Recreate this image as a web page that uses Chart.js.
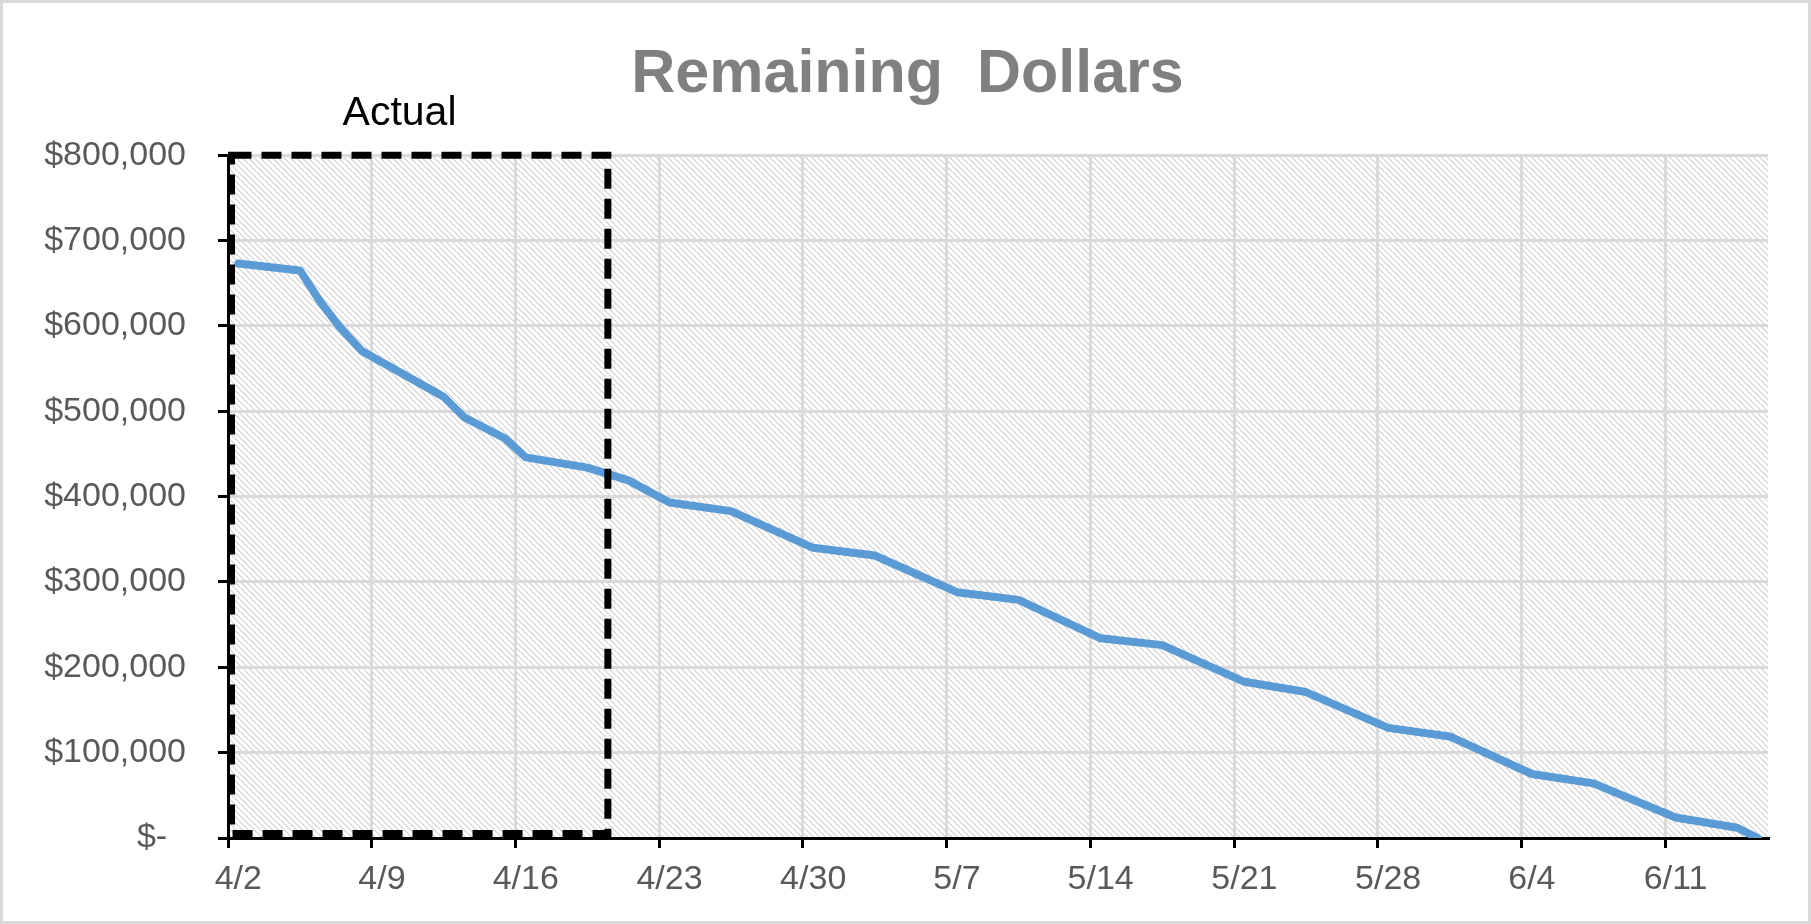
<!DOCTYPE html>
<html>
<head>
<meta charset="utf-8">
<title>Remaining Dollars</title>
<script src="https://cdn.jsdelivr.net/npm/chart.js@4.4.0/dist/chart.umd.min.js"></script>
<style>
  html, body { margin: 0; padding: 0; background: #fff; }
  #wrap { width: 1811px; height: 924px; position: relative; }
</style>
</head>
<body>
<div id="wrap"><canvas id="chart"></canvas></div>
<script>
"use strict";

// one category per day
const dates = [
  '4/2', '4/3', '4/4', '4/5', '4/6', '4/7', '4/8',
  '4/9', '4/10', '4/11', '4/12', '4/13', '4/14', '4/15',
  '4/16', '4/17', '4/18', '4/19', '4/20', '4/21', '4/22',
  '4/23', '4/24', '4/25', '4/26', '4/27', '4/28', '4/29',
  '4/30', '5/1', '5/2', '5/3', '5/4', '5/5', '5/6',
  '5/7', '5/8', '5/9', '5/10', '5/11', '5/12', '5/13',
  '5/14', '5/15', '5/16', '5/17', '5/18', '5/19', '5/20',
  '5/21', '5/22', '5/23', '5/24', '5/25', '5/26', '5/27',
  '5/28', '5/29', '5/30', '5/31', '6/1', '6/2', '6/3',
  '6/4', '6/5', '6/6', '6/7', '6/8', '6/9', '6/10',
  '6/11', '6/12', '6/13', '6/14', '6/15'
];

// remaining dollars, read where the line bends (null = straight run)
const remaining = [
  673000, null, null, 665000, 628000, 597000, 571000,
  null, null, null, 517000, 493000, null, 468000,
  446000, null, null, 434000, null, 419000, null,
  393000, null, null, 383000, null, null, null,
  340000, null, null, 331000, null, null, null,
  288000, null, null, 279000, null, null, null,
  234000, null, null, 226000, null, null, null,
  183000, null, null, 171000, null, null, null,
  129000, null, null, 119000, null, null, null,
  75000, null, null, 64000, null, null, null,
  24000, null, null, 12000, 0
];

// labelled dates on the x axis
const weekLabels = ['4/2', '4/9', '4/16', '4/23', '4/30', '5/7', '5/14', '5/21', '5/28', '6/4', '6/11'];

// y axis
const yStep = 100000;
const yMax = 800000;
const yTickLabels = ['$-  ', '$100,000', '$200,000', '$300,000', '$400,000',
                     '$500,000', '$600,000', '$700,000', '$800,000'];

// "Actual" box
const actualTo = '4/20';
const actualTop = 800000;
const actualLabel = 'Actual';
const actualLabelAt = '4/10';

const FONT = '"Liberation Sans", Arial, sans-serif';
Chart.defaults.font.family = FONT;

// diagonal hatch for the plot area
const hatchTile = document.createElement('canvas');
hatchTile.width = 6;
hatchTile.height = 6;
(function () {
    const g = hatchTile.getContext('2d');
    g.fillStyle = '#ffffff';
    g.fillRect(0, 0, 6, 6);
    g.fillStyle = '#dcdcdc';
    for (let py = 0; py < 6; py++) {
        for (let px = 0; px < 6; px++) {
            if ((((px - py) % 6) + 6) % 6 < 2) g.fillRect(px, py, 1, 1);
        }
    }
})();

const isWeek = (i) => weekLabels.includes(dates[i]);

const background = {
    id: 'background',
    afterLayout(chart) {
        // centre the title on the whole canvas, not on the padded layout
        if (chart.titleBlock) {
            chart.titleBlock.left = 0;
            chart.titleBlock.right = chart.width + 4;
        }
    },
    beforeDraw(chart) {
        const {ctx, width, height, chartArea} = chart;
        ctx.save();
        ctx.fillStyle = '#ffffff';
        ctx.fillRect(0, 0, width, height);
        ctx.strokeStyle = '#d9d9d9';
        ctx.lineWidth = 3;
        ctx.strokeRect(1.5, 1.5, width - 3, height - 3);
        ctx.fillStyle = ctx.createPattern(hatchTile, 'repeat');
        ctx.fillRect(chartArea.left, chartArea.top,
            chartArea.right - chartArea.left, chartArea.bottom - chartArea.top);
        ctx.restore();
    }
};

const actualBox = {
    id: 'actualBox',
    afterDatasetsDraw(chart) {
        const {ctx, chartArea} = chart;
        const x = chart.scales.x;
        const y = chart.scales.y;
        const lw = 7;
        const left = chartArea.left + lw / 2;
        const right = x.getPixelForValue(dates.indexOf(actualTo));
        const top = y.getPixelForValue(actualTop);
        const bottom = y.getPixelForValue(0) - lw / 2 - 1;
        ctx.save();
        ctx.strokeStyle = '#000000';
        ctx.lineWidth = lw;
        ctx.setLineDash([20, 10]);
        ctx.strokeRect(left, top, right - left, bottom - top);
        ctx.setLineDash([]);
        ctx.fillStyle = '#000000';
        ctx.font = '41px ' + FONT;
        ctx.textAlign = 'center';
        ctx.textBaseline = 'alphabetic';
        ctx.fillText(actualLabel, x.getPixelForValue(dates.indexOf(actualLabelAt)) - 3, top - 30);
        ctx.restore();
    }
};

new Chart(document.getElementById('chart'), {
    type: 'line',
    data: {
        labels: dates,
        datasets: [{
            label: 'Remaining Dollars',
            data: remaining,
            borderColor: '#5b9bd5',
            borderWidth: 8,
            pointRadius: 0,
            spanGaps: true,
            tension: 0,
            fill: false,
            borderJoinStyle: 'round',
            borderCapStyle: 'round'
        }]
    },
    options: {
        responsive: true,
        maintainAspectRatio: false,
        animation: false,
        layout: { padding: { left: 0, right: 43, top: 0, bottom: 0 } },
        plugins: {
            legend: { display: false },
            tooltip: { enabled: false },
            title: {
                display: true,
                text: 'Remaining  Dollars',
                color: '#808080',
                font: { size: 61, weight: 'bold' },
                padding: { top: 39, bottom: 43 }
            }
        },
        scales: {
            x: {
                type: 'category',
                offset: true,
                grid: {
                    offset: true,
                    color: (c) => isWeek(c.index) ? '#dadada' : 'rgba(0,0,0,0)',
                    lineWidth: 3,
                    tickColor: (c) => isWeek(c.index) ? '#000000' : 'rgba(0,0,0,0)',
                    tickWidth: 3,
                    tickLength: 10
                },
                border: { color: '#000000', width: 3 },
                ticks: {
                    autoSkip: false,
                    maxRotation: 0,
                    padding: 11,
                    color: '#595959',
                    font: { size: 34 },
                    callback: (v, i) => isWeek(i) ? dates[i] : ''
                },
                afterFit: (s) => { s.height = 86; }
            },
            y: {
                min: 0,
                max: yMax,
                grid: {
                    color: '#dadada',
                    lineWidth: 3,
                    tickColor: '#000000',
                    tickWidth: 3,
                    tickLength: 10
                },
                border: { color: '#000000', width: 3 },
                ticks: {
                    stepSize: yStep,
                    padding: 32,
                    color: '#595959',
                    font: { size: 34 },
                    callback: (v) => yTickLabels[Math.round(v / yStep)]
                },
                afterFit: (s) => { s.width = 228; }
            }
        }
    },
    plugins: [background, actualBox]
});
</script>
</body>
</html>
